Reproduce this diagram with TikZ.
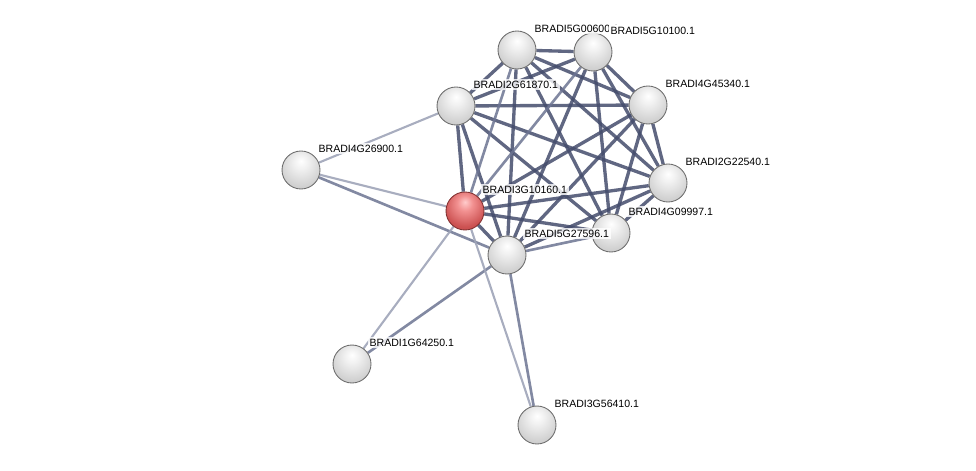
\documentclass[tikz,border=0pt]{standalone}
\usepackage{fontspec}
\setmainfont{Liberation Sans}
\usetikzlibrary{backgrounds}

\definecolor{linkdark}{RGB}{68,76,108}
\definecolor{linkmid}{RGB}{108,116,146}
\definecolor{linklight}{RGB}{158,164,184}
\definecolor{ballrim}{RGB}{110,110,110}
\definecolor{redrim}{RGB}{130,50,50}

\pgfdeclareradialshading{greyball}{\pgfpoint{0bp}{12bp}}{%
  color(0bp)=(white); color(10bp)=(white!94!black); color(28bp)=(white!82!black);
  color(42bp)=(white!75!black); color(52bp)=(white!62!black); color(70bp)=(white!50!black)}
\pgfdeclareradialshading{redball}{\pgfpoint{0bp}{12bp}}{%
  color(0bp)=(red!20!white); color(10bp)=(red!40!white!95!black); color(28bp)=(red!60!white!80!black);
  color(42bp)=(red!65!white!75!black); color(52bp)=(red!70!black); color(70bp)=(red!45!black)}

\begin{document}
\begin{tikzpicture}[x=0.02cm, y=-0.02cm,
    protein/.style={circle, draw=ballrim, line width=0.5pt, minimum size=0.76cm, inner sep=0pt, shading=greyball},
    query/.style={protein, draw=redrim, shading=redball},
    lbl/.style={anchor=south west, inner sep=1pt, xshift=1pt, yshift=1pt, fill=white, fill opacity=0.8, text opacity=1, font=\fontsize{6}{7}\selectfont},
    linkstrong/.style={line width=1.9pt, draw=linkdark, opacity=0.85},
    linkmedium/.style={line width=1.5pt, draw=linkmid, opacity=0.85},
    linkweak/.style={line width=1.2pt, draw=linklight, opacity=0.9}]
    \useasboundingbox (0,0) rectangle (976,470);

    % Proteins
    \node (g5a) [protein] at (517,50) {};
    \node (g5b) [protein] at (593,52) {};
    \node (g4c) [protein] at (648,105) {};
    \node (g2d) [protein] at (456,106) {};
    \node (g4h) [protein] at (301,170) {};
    \node (g2e) [protein] at (668,183) {};
    \node (g3r) [query] at (465,211) {};
    \node (g4f) [protein] at (611,233) {};
    \node (g5g) [protein] at (507,255) {};
    \node (g1i) [protein] at (352,364) {};
    \node (g3j) [protein] at (537,425) {};

    % Labels
    \node [lbl] at (g5a.north east) {BRADI5G00600.1};
    \node [lbl, fill opacity=1] at (g5b.north east) {BRADI5G10100.1};
    \node [lbl] at (g4c.north east) {BRADI4G45340.1};
    \node [lbl] at (g2d.north east) {BRADI2G61870.1};
    \node [lbl] at (g4h.north east) {BRADI4G26900.1};
    \node [lbl] at (g2e.north east) {BRADI2G22540.1};
    \node [lbl] at (g3r.north east) {BRADI3G10160.1};
    \node [lbl] at (g4f.north east) {BRADI4G09997.1};
    \node [lbl] at (g5g.north east) {BRADI5G27596.1};
    \node [lbl] at (g1i.north east) {BRADI1G64250.1};
    \node [lbl] at (g3j.north east) {BRADI3G56410.1};

    % Links
    \begin{scope}[on background layer]
        \foreach \a/\b in {g5a/g5b, g5a/g4c, g5a/g2d, g5a/g2e, g5a/g4f, g5a/g5g,
                           g5b/g4c, g5b/g2d, g5b/g2e, g5b/g4f, g5b/g5g,
                           g4c/g2d, g4c/g2e, g4c/g4f, g4c/g5g, g4c/g3r,
                           g2d/g2e, g2d/g3r, g2d/g5g, g2d/g4f,
                           g2e/g3r, g2e/g4f, g2e/g5g,
                           g3r/g5g, g3r/g4f}
            \draw[linkstrong] (\a) -- (\b);
        \foreach \a/\b in {g5a/g3r, g5b/g3r, g4f/g5g, g4h/g5g, g1i/g5g, g3j/g5g}
            \draw[linkmedium] (\a) -- (\b);
        \foreach \a/\b in {g4h/g2d, g4h/g3r, g1i/g3r, g3j/g3r}
            \draw[linkweak] (\a) -- (\b);
    \end{scope}
\end{tikzpicture}
\end{document}
